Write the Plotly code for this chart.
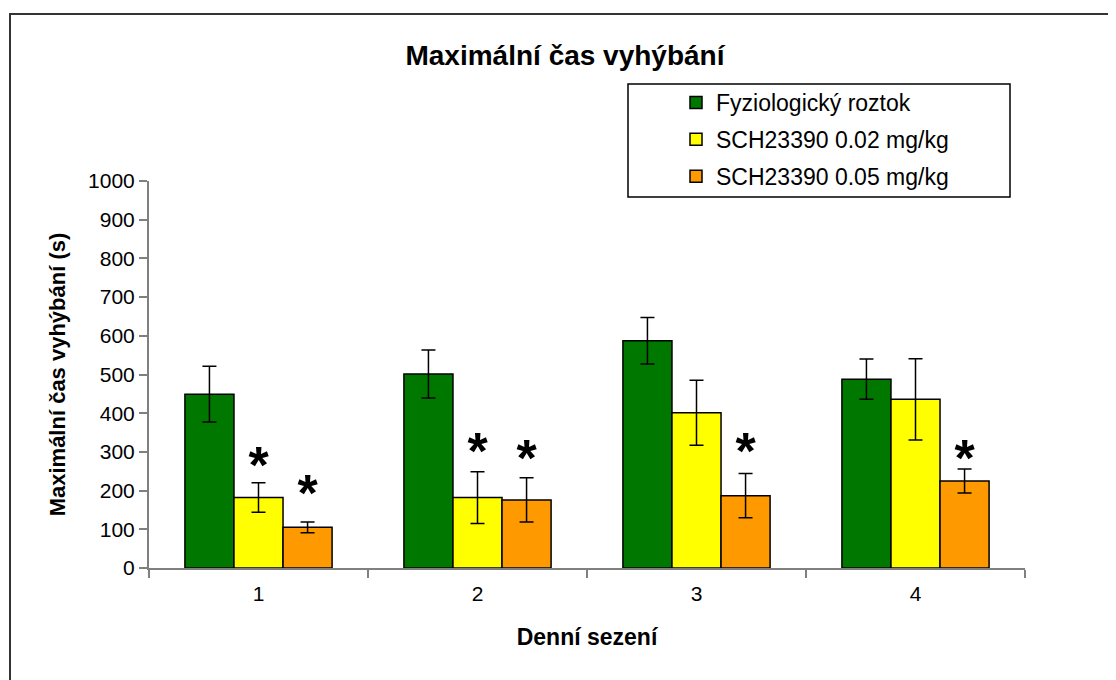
import plotly.graph_objects as go

# data
sessions = [1, 2, 3, 4]
series_names = ['Fyziologický roztok', 'SCH23390 0.02 mg/kg', 'SCH23390 0.05 mg/kg']
saline = [449, 501, 587, 488]
sch_002 = [182, 182, 401, 436]
sch_005 = [105, 176, 187, 225]
err_saline = [72, 62, 60, 52]
err_sch_002 = [38, 67, 84, 105]
err_sch_005 = [14, 57, 57, 31]
# significance stars: (series index, session, height of star in s)
stars_series = [1, 2, 1, 2, 2, 2]
stars_session = [1, 1, 2, 2, 3, 4]
stars_y = [254, 182, 290, 272, 290, 272]

colors = ['#007800', '#ffff00', '#ff9900']
values = [saline, sch_002, sch_005]
errors = [err_saline, err_sch_002, err_sch_005]

bw = 0.224  # bar width in session units
font = 'Liberation Sans, Arial, sans-serif'

fig = go.Figure()

for i in range(3):
    fig.add_trace(go.Bar(
        x=[s + (i - 1) * bw for s in sessions],
        y=values[i],
        width=bw,
        name=series_names[i],
        legendgroup=str(i),
        marker={'color': colors[i], 'line': {'color': 'black', 'width': 1.5}},
        error_y={'type': 'data', 'array': errors[i], 'visible': True,
                 'color': 'black', 'thickness': 1.5, 'width': 7},
    ))

fig.add_trace(go.Scatter(
    x=[s + (k - 1) * bw for k, s in zip(stars_series, stars_session)],
    y=stars_y,
    mode='text',
    text=['*'] * len(stars_y),
    textposition='middle center',
    textfont={'family': font, 'size': 52, 'color': 'black', 'weight': 'bold'},
    showlegend=False,
    hoverinfo='skip',
))

# the page adds an 8px body margin, so the figure is 8px smaller than the window
W, H = 1108, 672
L, R, T, B = 141, 91, 173, 112
pw, ph = W - L - R, H - T - B


def px(x):
    return (x - L) / pw


def py(y):
    return (H - B - y) / ph


fig.update_layout(
    width=W,
    height=H,
    paper_bgcolor='white',
    plot_bgcolor='white',
    margin={'l': L, 'r': R, 't': T, 'b': B, 'pad': 0},
    font={'family': font, 'color': 'black'},
    title={
        'text': '<b>Maximální čas vyhýbání</b>',
        'x': 557 / W,
        'xanchor': 'center',
        'y': 1 - 47 / H,
        'yanchor': 'middle',
        'font': {'size': 28},
    },
    showlegend=True,
    legend={
        'x': px(668),
        'xanchor': 'left',
        'y': py(73),
        'yanchor': 'top',
        'font': {'size': 23},
        'bgcolor': 'rgba(0,0,0,0)',
        'borderwidth': 0,
        'tracegroupgap': 4,
        'traceorder': 'grouped',
    },
    xaxis={
        'range': [0.5, 4.5],
        'tickvals': sessions,
        'ticktext': [str(s) for s in sessions],
        'ticks': '',
        'ticklabelstandoff': 6,
        'tickfont': {'size': 21},
        'showgrid': False,
        'zeroline': False,
        'showline': True,
        'linecolor': '#808080',
        'linewidth': 2,
        'minor': {'tick0': 0.5, 'dtick': 1, 'ticks': 'outside', 'ticklen': 8,
                  'tickcolor': '#808080', 'tickwidth': 1.5, 'showgrid': False},
        'title': {'text': '<b>Denní sezení</b>', 'font': {'size': 23}, 'standoff': 25},
    },
    yaxis={
        'range': [0, 1000],
        'dtick': 100,
        'ticks': 'outside',
        'ticklen': 8,
        'tickcolor': '#808080',
        'tickwidth': 1.5,
        'tickfont': {'size': 21},
        'showgrid': False,
        'zeroline': False,
        'showline': True,
        'linecolor': '#808080',
        'linewidth': 2,
        'title': {'text': '<b>Maximální čas vyhýbání (s)</b>', 'font': {'size': 22}, 'standoff': 16},
    },
    shapes=[
        # outer chart border
        {'type': 'rect', 'xref': 'paper', 'yref': 'paper',
         'x0': px(2), 'x1': px(W + 20), 'y0': py(H + 20), 'y1': py(6),
         'line': {'color': '#333333', 'width': 2}},
        # legend frame
        {'type': 'rect', 'xref': 'paper', 'yref': 'paper',
         'x0': px(620), 'x1': px(1002), 'y0': py(189), 'y1': py(76),
         'line': {'color': 'black', 'width': 1.5}},
    ],
)

fig.write_html('out.html')
